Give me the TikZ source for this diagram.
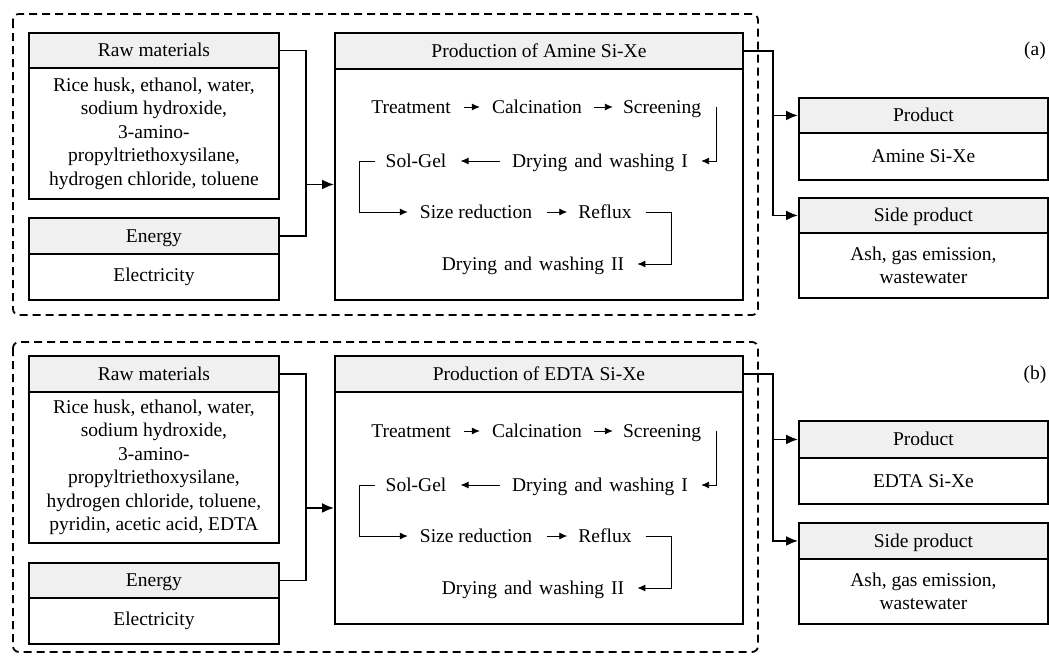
\documentclass[tikz,border=0pt]{standalone}
\usepackage{fontspec}
\setmainfont{Liberation Serif}
\usetikzlibrary{arrows.meta}
\definecolor{hdrgray}{RGB}{240,240,240}
\newcommand\mkbox[8]{%
  \node[hdr, minimum width={#3-#2}, minimum height={#5-#4}] (#1H) at (#2,#4) {#7};
  \node[bdy, minimum width={#3-#2}, minimum height={#6-#5}] (#1B) at (#2,#5) {#8};
}
\begin{document}
\begin{tikzpicture}[x=1pt,y=-1pt,
  font=\fontsize{19.5}{23.5}\selectfont,
  hdr/.style={draw, line width=1.9pt, fill=hdrgray, anchor=north west, inner sep=0pt, text height=13pt, text depth=0pt},
  bdy/.style={draw, line width=1.9pt, fill=white, anchor=north west, inner sep=0pt, align=center},
  ptxt/.style={inner sep=0pt, anchor=center, text height=13pt, text depth=0pt},
  conn/.style={line width=1.9pt},
  arr/.style={conn, -{Latex[length=12pt,width=10pt]}},
  pline/.style={line width=0.9pt},
  parr/.style={pline, -{Latex[length=8pt,width=7pt]}},
  panel/.style={dash pattern=on 8pt off 5pt, line width=1.8pt, rounded corners=6pt},
  lbl/.style={inner sep=0pt}
]
\useasboundingbox (0,0) rectangle (1049,656);

% ---------------- panel (a) ----------------
\draw[panel] (13,14) rectangle (758,315);
\mkbox{rawa}{28}{278}{32}{67}{198}{Raw materials}{Rice husk, ethanol, water,\\ sodium hydroxide,\\ 3-amino-\\ propyltriethoxysilane,\\ hydrogen chloride, toluene}
\mkbox{ena}{28}{278}{217}{253}{299}{Energy}{Electricity}
\mkbox{proda}{334}{742}{32}{68}{299}{Production of Amine Si-Xe}{}
\mkbox{outa}{798}{1047}{97}{132}{179}{Product}{Amine Si-Xe}
\mkbox{sidea}{798}{1047}{197}{232}{297}{Side product}{Ash, gas emission,\\ wastewater}
\node[lbl] (la) at (1035,51) {(a)};

\path (prodaB.west) ++(-28,0) coordinate (ja);
\draw[conn] (rawaH.east) -| (ja) |- (enaH.east);
\draw[arr] (ja) -- (prodaB.west);
\path (prodaH.east) ++(29,0) coordinate (oa);
\draw[arr] (prodaH.east) -- (oa) |- (sideaH.west);
\draw[arr] (oa |- outaH.west) -- (outaH.west);

\node[ptxt] (a1) at (411,107) {Treatment};
\node[ptxt] (a2) at (537,107) {Calcination};
\node[ptxt] (a3) at (662,107) {Screening};
\node[ptxt] (a4) at (600,161) {Drying\hspace{7pt}and\hspace{7pt}washing\hspace{7pt}I};
\node[ptxt] (a5) at (416,161) {Sol-Gel};
\node[ptxt] (a6) at (476,212) {Size reduction};
\node[ptxt] (a7) at (605,212) {Reflux};
\node[ptxt] (a8) at (533,264) {Drying\hspace{7pt}and\hspace{7pt}washing\hspace{7pt}II};
\draw[parr] ([xshift=13]a1.east) -- ([xshift=-12]a2.west);
\draw[parr] ([xshift=12]a2.east) -- ([xshift=-10]a3.west);
\draw[parr] ([xshift=15]a3.east) |- ([xshift=13]a4.east);
\draw[parr] ([xshift=-12]a4.west) -- ([xshift=14]a5.east);
\draw[parr] ([xshift=-10]a5.west) -- ++(-16,0) |- ([xshift=-12]a6.west);
\draw[parr] ([xshift=15]a6.east) -- ([xshift=-11]a7.west);
\draw[parr] ([xshift=14]a7.east) -- ++(26,0) |- ([xshift=13]a8.east);

% ---------------- panel (b) ----------------
\draw[panel] (13,342) rectangle (758,652);
\mkbox{rawb}{28}{278}{355}{391}{542}{Raw materials}{Rice husk, ethanol, water,\\ sodium hydroxide,\\ 3-amino-\\ propyltriethoxysilane,\\ hydrogen chloride, toluene,\\ pyridin, acetic acid, EDTA}
\mkbox{enb}{28}{278}{562}{597}{643}{Energy}{Electricity}
\mkbox{prodb}{334}{742}{355}{391}{623}{Production of EDTA Si-Xe}{}
\mkbox{outb}{798}{1047}{420}{457}{503}{Product}{EDTA Si-Xe}
\mkbox{sideb}{798}{1047}{522}{558}{623}{Side product}{Ash, gas emission,\\ wastewater}
\node[lbl] (lb) at (1035,375) {(b)};

\path (prodbB.west) ++(-28,0) coordinate (jb);
\draw[conn] (rawbH.east) -| (jb) |- (enbH.east);
\draw[arr] (jb) -- (prodbB.west);
\path (prodbH.east) ++(29,0) coordinate (ob);
\draw[arr] (prodbH.east) -- (ob) |- (sidebH.west);
\draw[arr] (ob |- outbH.west) -- (outbH.west);

\node[ptxt] (b1) at (411,431) {Treatment};
\node[ptxt] (b2) at (537,431) {Calcination};
\node[ptxt] (b3) at (662,431) {Screening};
\node[ptxt] (b4) at (600,485) {Drying\hspace{7pt}and\hspace{7pt}washing\hspace{7pt}I};
\node[ptxt] (b5) at (416,485) {Sol-Gel};
\node[ptxt] (b6) at (476,536) {Size reduction};
\node[ptxt] (b7) at (605,536) {Reflux};
\node[ptxt] (b8) at (533,588) {Drying\hspace{7pt}and\hspace{7pt}washing\hspace{7pt}II};
\draw[parr] ([xshift=13]b1.east) -- ([xshift=-12]b2.west);
\draw[parr] ([xshift=12]b2.east) -- ([xshift=-10]b3.west);
\draw[parr] ([xshift=15]b3.east) |- ([xshift=13]b4.east);
\draw[parr] ([xshift=-12]b4.west) -- ([xshift=14]b5.east);
\draw[parr] ([xshift=-10]b5.west) -- ++(-16,0) |- ([xshift=-12]b6.west);
\draw[parr] ([xshift=15]b6.east) -- ([xshift=-11]b7.west);
\draw[parr] ([xshift=14]b7.east) -- ++(26,0) |- ([xshift=13]b8.east);
\end{tikzpicture}
\end{document}
